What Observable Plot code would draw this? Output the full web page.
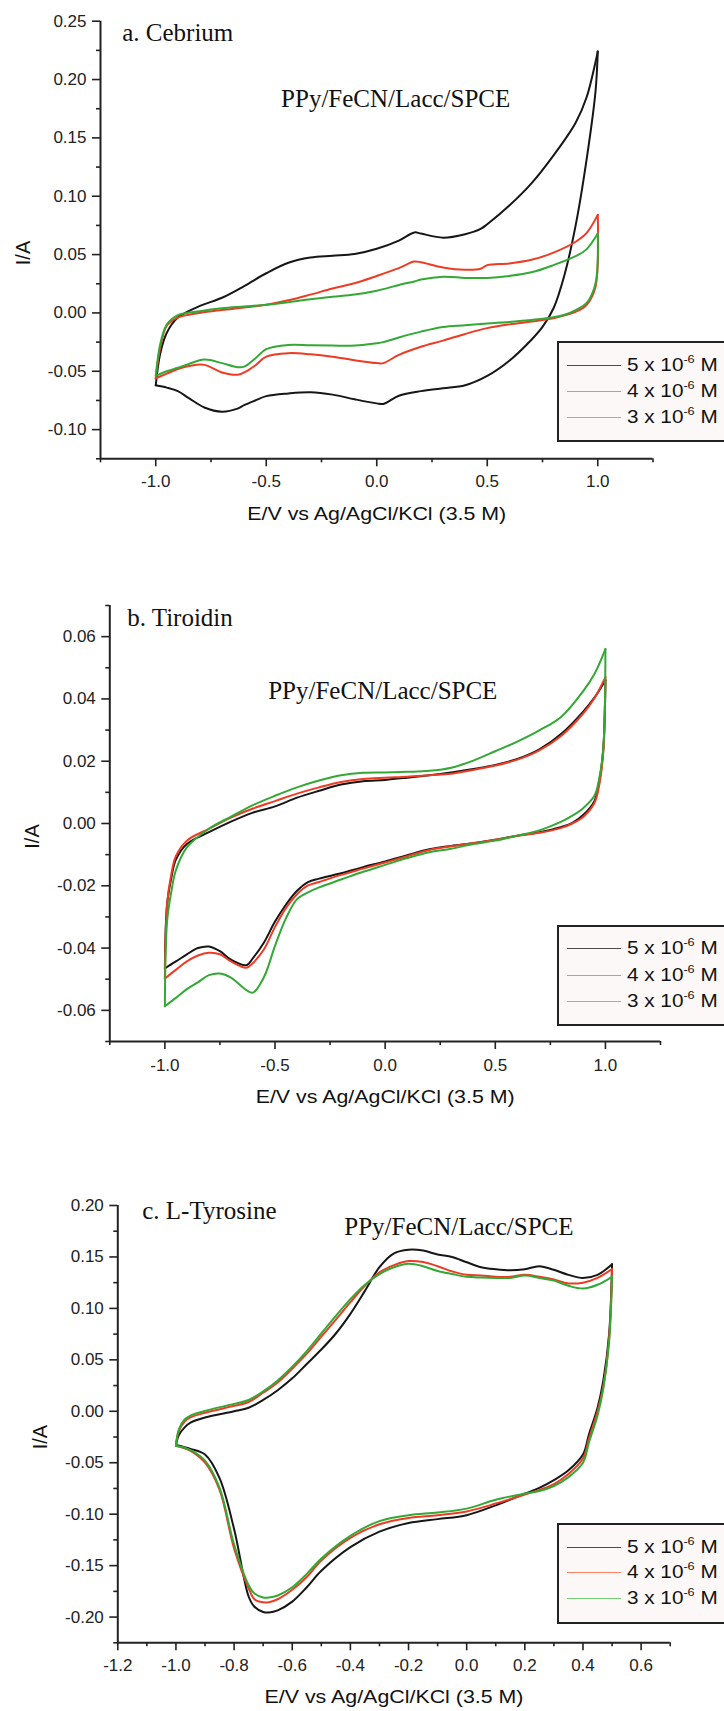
<!DOCTYPE html>
<html><head><meta charset="utf-8">
<script src="https://cdn.jsdelivr.net/npm/d3@7"></script>
<script src="https://cdn.jsdelivr.net/npm/@observablehq/plot@0.6"></script>
<style>
html,body{margin:0;padding:0;background:#fff;overflow:hidden;}
#root{width:724px;height:1711px;position:relative;overflow:hidden;background:#fff;}
.panel{position:absolute;left:0;width:724px;}
.panel svg{display:block;}
.legend{position:absolute;left:557px;width:220px;height:97px;border:2px solid #222;background:#fcf8f8;}
.sw{position:absolute;left:8px;width:54px;height:0;border-top:1.4px solid;}
.lt{position:absolute;left:68px;transform:translateY(-50%) scaleX(1.15);transform-origin:left center;font:18px "Liberation Sans",Arial,sans-serif;color:#111;white-space:nowrap;line-height:1;}
.lt span{font-size:11px;position:relative;top:-8px;}
</style>
</head><body>
<div id="root"></div>
<script>
// ---------- series / legend ----------
const seriesNames = ["5 x 10-6 M", "4 x 10-6 M", "3 x 10-6 M"];
const legendCoef = ["5", "4", "3"];
const legendExp = "-6";
const lineColors = ["#161616", "#ee3b24", "#33a835"];
const legendColors = ["#4c4c4c", "#ff8266", "#74cf74"];
const xTitle = "E/V vs Ag/AgCl/KCl (3.5 M)";
const yTitle = "I/A";
const electrode = "PPy/FeCN/Lacc/SPCE";

// ---------- panel a: Cebrium ----------
const aLabel = "a. Cebrium";
const aUpperE = [-1.0, -0.98, -0.95, -0.9, -0.8, -0.7, -0.6, -0.5, -0.4, -0.3, -0.2, -0.1, 0.0, 0.1, 0.17, 0.2, 0.3, 0.4, 0.47, 0.5, 0.6, 0.7, 0.8, 0.9, 0.95, 1.0];
const aUpper5 = [-0.062, -0.035, -0.017, -0.004, 0.006, 0.013, 0.023, 0.034, 0.043, 0.0475, 0.049, 0.0505, 0.055, 0.062, 0.069, 0.068, 0.0645, 0.0675, 0.072, 0.076, 0.092, 0.111, 0.135, 0.163, 0.185, 0.224];
const aUpper4 = [-0.056, -0.030, -0.011, -0.004, 0.0, 0.0025, 0.0046, 0.007, 0.0108, 0.0157, 0.021, 0.0255, 0.0317, 0.0384, 0.044, 0.0434, 0.039, 0.037, 0.0378, 0.041, 0.0424, 0.0455, 0.0517, 0.061, 0.0686, 0.084];
const aUpper3 = [-0.054, -0.027, -0.010, -0.002, 0.0015, 0.004, 0.0055, 0.007, 0.0092, 0.0117, 0.0138, 0.0157, 0.019, 0.024, 0.027, 0.0286, 0.031, 0.030, 0.030, 0.030, 0.0317, 0.0348, 0.041, 0.0486, 0.0547, 0.068];
const aLowerE = [1.0, 0.99, 0.95, 0.9, 0.85, 0.8, 0.75, 0.7, 0.6, 0.5, 0.4, 0.3, 0.2, 0.1, 0.03, 0.0, -0.1, -0.2, -0.3, -0.4, -0.5, -0.55, -0.6, -0.63, -0.7, -0.78, -0.85, -0.9, -0.95, -1.0];
const aLower5 = [0.224, 0.19, 0.132, 0.075, 0.033, 0.004, -0.012, -0.023, -0.041, -0.054, -0.062, -0.0646, -0.067, -0.071, -0.078, -0.0775, -0.074, -0.070, -0.068, -0.069, -0.0713, -0.075, -0.079, -0.082, -0.0846, -0.081, -0.073, -0.067, -0.064, -0.062];
const aLower4 = [0.084, 0.0225, 0.007, 0.001, -0.002, -0.0046, -0.006, -0.0074, -0.0098, -0.013, -0.018, -0.0237, -0.029, -0.036, -0.043, -0.043, -0.0406, -0.0375, -0.0354, -0.0345, -0.0375, -0.045, -0.051, -0.053, -0.051, -0.0445, -0.0455, -0.048, -0.052, -0.056];
const aLower3 = [0.068, 0.0255, 0.0086, 0.0025, -0.0015, -0.0037, -0.005, -0.006, -0.0077, -0.009, -0.0105, -0.012, -0.016, -0.021, -0.025, -0.026, -0.028, -0.028, -0.0277, -0.0274, -0.031, -0.039, -0.046, -0.0465, -0.043, -0.040, -0.0437, -0.047, -0.050, -0.054];
const aXMajor = [-1.0, -0.5, 0.0, 0.5, 1.0];
const aXMinor = [-1.25, -0.75, -0.25, 0.25, 0.75, 1.25];
const aYMajor = [-0.10, -0.05, 0.00, 0.05, 0.10, 0.15, 0.20, 0.25];
const aYMinor = [-0.125, -0.075, -0.025, 0.025, 0.075, 0.125, 0.175, 0.225];

// ---------- panel b: Tiroidin ----------
const bLabel = "b. Tiroidin";
const bUpperE = [-1.0, -0.99, -0.97, -0.95, -0.9, -0.8, -0.7, -0.6, -0.5, -0.4, -0.3, -0.2, -0.1, 0.0, 0.1, 0.2, 0.3, 0.4, 0.5, 0.6, 0.7, 0.8, 0.9, 0.95, 1.0];
const bUpper5 = [-0.0465, -0.026, -0.0172, -0.0116, -0.0066, -0.0028, 0.0006, 0.0035, 0.0055, 0.0083, 0.0105, 0.0125, 0.0136, 0.014, 0.0147, 0.0155, 0.0164, 0.0175, 0.0188, 0.0207, 0.0238, 0.0288, 0.036, 0.0404, 0.046];
const bUpper4 = [-0.0498, -0.026, -0.016, -0.0105, -0.0055, -0.0017, 0.0019, 0.0048, 0.0072, 0.0096, 0.0116, 0.0133, 0.0143, 0.0147, 0.015, 0.0155, 0.016, 0.0172, 0.0186, 0.0205, 0.0235, 0.0282, 0.0354, 0.0402, 0.047];
const bUpper3 = [-0.0587, -0.0315, -0.0216, -0.015, -0.0077, -0.0017, 0.0022, 0.0059, 0.0089, 0.0116, 0.0138, 0.0155, 0.0163, 0.0164, 0.0166, 0.0169, 0.0179, 0.0202, 0.0232, 0.0263, 0.0299, 0.0343, 0.0426, 0.048, 0.056];
const bLowerE = [1.0, 0.99, 0.97, 0.95, 0.9, 0.85, 0.8, 0.7, 0.6, 0.5, 0.4, 0.3, 0.2, 0.1, 0.0, -0.1, -0.2, -0.3, -0.35, -0.4, -0.45, -0.5, -0.55, -0.6, -0.63, -0.7, -0.75, -0.8, -0.85, -0.9, -0.95, -1.0];
const bLower5 = [0.046, 0.0238, 0.0127, 0.0072, 0.0028, 0.0002, -0.0011, -0.0028, -0.0039, -0.0052, -0.0063, -0.0072, -0.0083, -0.0102, -0.0122, -0.014, -0.016, -0.0177, -0.0188, -0.0216, -0.026, -0.0315, -0.0382, -0.0432, -0.0455, -0.0437, -0.041, -0.0395, -0.040, -0.042, -0.0443, -0.0465];
const bLower4 = [0.047, 0.0227, 0.0116, 0.0066, 0.0022, 0.0, -0.0014, -0.003, -0.0039, -0.0052, -0.0063, -0.0073, -0.0085, -0.0105, -0.0125, -0.0145, -0.0165, -0.0188, -0.0199, -0.0227, -0.0271, -0.0332, -0.0404, -0.0448, -0.0463, -0.0443, -0.042, -0.0415, -0.0424, -0.0443, -0.047, -0.0498];
const bLower3 = [0.056, 0.0238, 0.0138, 0.0089, 0.005, 0.0025, 0.0006, -0.0022, -0.0039, -0.0055, -0.0066, -0.0081, -0.0092, -0.0111, -0.0133, -0.0155, -0.018, -0.0205, -0.0221, -0.0243, -0.0304, -0.0393, -0.0493, -0.0543, -0.0535, -0.0495, -0.0482, -0.0487, -0.051, -0.0532, -0.056, -0.0587];
const bXMajor = [-1.0, -0.5, 0.0, 0.5, 1.0];
const bXMinor = [-1.25, -0.75, -0.25, 0.25, 0.75, 1.25];
const bYMajor = [-0.06, -0.04, -0.02, 0.00, 0.02, 0.04, 0.06];
const bYMinor = [-0.07, -0.05, -0.03, -0.01, 0.01, 0.03, 0.05, 0.07];

// ---------- panel c: L-Tyrosine ----------
const cLabel = "c. L-Tyrosine";
const cUpperE = [-1.0, -0.99, -0.97, -0.95, -0.9, -0.8, -0.75, -0.7, -0.65, -0.6, -0.55, -0.5, -0.45, -0.4, -0.35, -0.3, -0.25, -0.2, -0.15, -0.1, -0.05, 0.0, 0.05, 0.1, 0.15, 0.2, 0.25, 0.3, 0.35, 0.4, 0.45, 0.5];
const cUpper5 = [-0.0327, -0.023, -0.0156, -0.011, -0.006, 0.0, 0.0034, 0.011, 0.0205, 0.032, 0.046, 0.060, 0.0756, 0.0947, 0.117, 0.140, 0.1534, 0.157, 0.1562, 0.1524, 0.150, 0.1448, 0.140, 0.138, 0.137, 0.138, 0.141, 0.1375, 0.1326, 0.1296, 0.1326, 0.1429];
const cUpper4 = [-0.0335, -0.019, -0.0099, -0.006, -0.0015, 0.0053, 0.009, 0.018, 0.028, 0.0414, 0.056, 0.0726, 0.089, 0.106, 0.122, 0.135, 0.142, 0.146, 0.145, 0.141, 0.136, 0.1326, 0.132, 0.1307, 0.1307, 0.1326, 0.1307, 0.128, 0.1243, 0.125, 0.1296, 0.1383];
const cUpper3 = [-0.0335, -0.0175, -0.008, -0.0042, 0.0004, 0.0072, 0.011, 0.0194, 0.030, 0.0433, 0.0585, 0.0756, 0.0927, 0.109, 0.123, 0.1334, 0.140, 0.1433, 0.141, 0.1364, 0.1334, 0.1307, 0.130, 0.1296, 0.1296, 0.132, 0.1296, 0.127, 0.122, 0.1193, 0.123, 0.1307];
const cLowerE = [0.5, 0.49, 0.47, 0.45, 0.42, 0.4, 0.35, 0.3, 0.25, 0.2, 0.1, 0.0, -0.1, -0.2, -0.3, -0.4, -0.5, -0.55, -0.6, -0.65, -0.68, -0.7, -0.73, -0.75, -0.8, -0.85, -0.9, -0.95, -1.0];
const cLower5 = [0.1429, 0.0756, 0.030, 0.0034, -0.023, -0.042, -0.0574, -0.067, -0.0745, -0.080, -0.0914, -0.101, -0.1048, -0.1086, -0.117, -0.132, -0.155, -0.171, -0.185, -0.1935, -0.1955, -0.195, -0.19, -0.18, -0.1144, -0.065, -0.042, -0.0365, -0.0327];
const cLower4 = [0.1383, 0.0718, 0.0243, 0.0, -0.027, -0.046, -0.061, -0.0707, -0.0764, -0.081, -0.0897, -0.0973, -0.101, -0.1037, -0.1098, -0.123, -0.145, -0.161, -0.1735, -0.1827, -0.1855, -0.1857, -0.1827, -0.172, -0.1333, -0.0764, -0.050, -0.0384, -0.0335];
const cLower3 = [0.1307, 0.068, 0.0224, -0.0042, -0.0308, -0.050, -0.064, -0.0726, -0.0775, -0.080, -0.0859, -0.0946, -0.0984, -0.101, -0.1067, -0.121, -0.143, -0.158, -0.171, -0.179, -0.181, -0.181, -0.177, -0.169, -0.1295, -0.0745, -0.048, -0.0377, -0.0335];
const cXMajor = [-1.2, -1.0, -0.8, -0.6, -0.4, -0.2, 0.0, 0.2, 0.4, 0.6];
const cXMinor = [-1.1, -0.9, -0.7, -0.5, -0.3, -0.1, 0.1, 0.3, 0.5, 0.7];
const cYMajor = [-0.20, -0.15, -0.10, -0.05, 0.00, 0.05, 0.10, 0.15, 0.20];
const cYMinor = [-0.225, -0.175, -0.125, -0.075, -0.025, 0.025, 0.075, 0.125, 0.175];

// ---------- build ----------
// each sweep branch is its own path so the vertices stay sharp
function loops(upE, lowE, ups, lows) {
  const rows = [];
  seriesNames.forEach((s, k) => {
    upE.forEach((e, i) => rows.push({E: e, I: ups[k][i], s, b: s + "|up"}));
    lowE.forEach((e, i) => rows.push({E: e, I: lows[k][i], s, b: s + "|low"}));
  });
  return rows;
}

const sans = "'Liberation Sans', Arial, sans-serif";
const serif = "'Liberation Serif', 'Times New Roman', serif";

function makePanel(o) {
  const rows = loops(o.upE, o.lowE, o.ups, o.lows);
  const svg = Plot.plot({
    width: 724, height: o.height,
    marginTop: o.mt, marginBottom: o.mb, marginLeft: o.ml, marginRight: o.mr,
    x: {domain: o.xDomain},
    y: {domain: o.yDomain},
    color: {domain: seriesNames, range: lineColors},
    style: {background: "transparent", fontFamily: sans, color: "#222", overflow: "visible"},
    marks: [
      Plot.axisX({ticks: o.xMajor, tickSize: 8, tickPadding: o.xPad, tickFormat: d => d.toFixed(1), fontSize: 17, label: null, strokeWidth: 1.6}),
      Plot.axisX({ticks: o.xMinor, tickSize: 4, tickFormat: () => "", label: null, strokeWidth: 1.6}),
      Plot.axisY({ticks: o.yMajor, tickSize: 8, tickPadding: 6, tickFormat: d => d.toFixed(2), fontSize: 17, label: null, strokeWidth: 1.6}),
      Plot.axisY({ticks: o.yMinor, tickSize: 4, tickFormat: () => "", label: null, strokeWidth: 1.6}),
      Plot.ruleY([o.yDomain[0]], {stroke: "#222", strokeWidth: 2}),
      Plot.ruleX([o.xDomain[0]], {stroke: "#222", strokeWidth: 2}),
      Plot.line(rows, {x: "E", y: "I", z: "b", stroke: "s", strokeWidth: 2, curve: "catmull-rom"}),
      Plot.text([o.label], {text: d => d, frameAnchor: "top-left", textAnchor: "start", lineAnchor: "bottom", dx: o.labDx, dy: o.labDy, fontFamily: serif, fontSize: 25, fill: "#111"}),
      Plot.text([electrode], {text: d => d, frameAnchor: "top-left", textAnchor: "start", lineAnchor: "bottom", dx: o.ppDx, dy: o.ppDy, fontFamily: serif, fontSize: 25, fill: "#111"}),
      Plot.text([yTitle], {text: d => d, frameAnchor: "left", rotate: -90, dx: -77, dy: 13, fontSize: 20, textAnchor: "middle", lineAnchor: "middle", fill: "#111"}),
      Plot.text([xTitle], {text: d => d, frameAnchor: "bottom", dy: o.tDy, fontSize: 19, lineAnchor: "middle", fill: "#111"})
    ]
  });
  d3.select(svg).selectAll("text").filter(function() { return this.textContent === xTitle; })
    .attr("textLength", 259).attr("lengthAdjust", "spacingAndGlyphs");
  const wrap = document.createElement("div");
  wrap.className = "panel";
  wrap.style.top = o.top + "px";
  wrap.style.height = o.height + "px";
  wrap.appendChild(svg);
  const lg = document.createElement("div");
  lg.className = "legend";
  lg.style.top = o.legTop + "px";
  seriesNames.forEach((s, k) => {
    const y = o.legRows[k];
    const sw = document.createElement("div");
    sw.className = "sw";
    sw.style.top = y + "px";
    sw.style.borderTopColor = legendColors[k];
    lg.appendChild(sw);
    const t = document.createElement("div");
    t.className = "lt";
    t.style.top = y + "px";
    t.innerHTML = legendCoef[k] + " x 10<span>" + legendExp + "</span> M";
    lg.appendChild(t);
  });
  wrap.appendChild(lg);
  document.getElementById("root").appendChild(wrap);
}

makePanel({
  top: 0, height: 560, mt: 20.7, mb: 101.7, ml: 100, mr: 71.5,
  xDomain: [-1.25, 1.25], yDomain: [-0.125, 0.25],
  xMajor: aXMajor, xMinor: aXMinor, yMajor: aYMajor, yMinor: aYMinor, xPad: 8,
  upE: aUpperE, lowE: aLowerE, ups: [aUpper5, aUpper4, aUpper3], lows: [aLower5, aLower4, aLower3],
  label: aLabel, labDx: 21.7, labDy: 19.5, ppDx: 180.6, ppDy: 85.3, tDy: 54.7,
  legTop: 341, legRows: [22, 48, 73.7]
});
makePanel({
  top: 560, height: 570, mt: 45, mb: 89, ml: 109.3, mr: 64,
  xDomain: [-1.25, 1.25], yDomain: [-0.07, 0.07],
  xMajor: bXMajor, xMinor: bXMinor, yMajor: bYMajor, yMinor: bYMinor, xPad: 9,
  upE: bUpperE, lowE: bLowerE, ups: [bUpper5, bUpper4, bUpper3], lows: [bLower5, bLower4, bLower3],
  label: bLabel, labDx: 17.4, labDy: 20, ppDx: 158.4, ppDy: 93, tDy: 55.7,
  legTop: 365, legRows: [21.4, 48, 73.8]
});
makePanel({
  top: 1130, height: 581, mt: 75, mb: 68.7, ml: 117.3, mr: 54.3,
  xDomain: [-1.2, 0.7], yDomain: [-0.225, 0.2],
  xMajor: cXMajor, xMinor: cXMinor, yMajor: cYMajor, yMinor: cYMinor, xPad: 8,
  upE: cUpperE, lowE: cLowerE, ups: [cUpper5, cUpper4, cUpper3], lows: [cLower5, cLower4, cLower3],
  label: cLabel, labDx: 24.4, labDy: 13, ppDx: 226.5, ppDy: 29.5, tDy: 54.4,
  legTop: 392.7, legRows: [22, 47, 73.6]
});
</script>
</body></html>
